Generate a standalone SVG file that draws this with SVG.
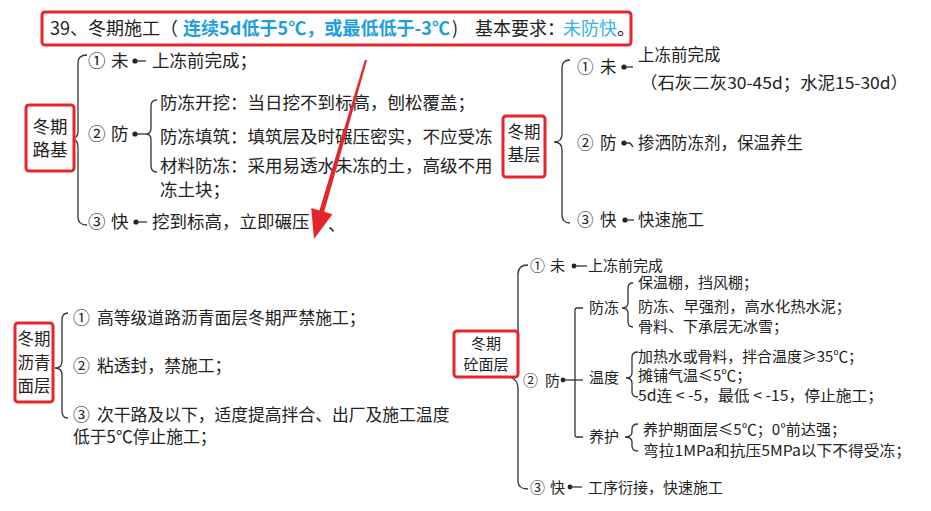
<svg xmlns="http://www.w3.org/2000/svg" width="931" height="511" viewBox="0 0 931 511">
<style>
text{font-family:"Noto Sans CJK SC","Noto Sans",sans-serif;fill:#222;}
.t17{font-size:17.5px;}
.t16{font-size:16.5px;}
.t168{font-size:16.8px;}
.t15{font-size:15px;}
.tt{font-size:18px;}
.c{text-anchor:middle;}
.box{fill:#fff;stroke:#e4262a;stroke-width:3;}
.br{fill:none;stroke:#333;stroke-width:1.3;}
.dot{fill:#222;}
.hb{fill:#1e9fdc;font-weight:bold;}
.hl{fill:#3ab2ea;}
</style>
<rect width="931" height="511" fill="#fff"/>

<g id="title">
<rect class="box" x="42" y="12" width="589" height="33" rx="3"/>
<text class="tt" x="50" y="35">39、冬期施工（</text>
<text class="tt hb" x="183" y="35" textLength="267" lengthAdjust="spacingAndGlyphs">连续5d低于5℃，或最低低于-3℃</text>
<text class="tt" x="452" y="35">)</text>
<text class="tt" x="475" y="35">基本要求：</text>
<text class="tt hl" x="563" y="35">未防快</text>
<text class="tt" x="617" y="35">。</text>
</g>

<g id="connectors">
<!-- 冬期路基 -->
<path class="br" d="M87,55 Q78,55 78,63 L78,131 Q78,139 71,139 Q78,139 78,147 L78,217 Q78,225 87,225"/>
<path class="br" d="M157,100 Q151,100 151,106 L151,128 Q151,134 146,134 Q151,134 151,140 L151,166 Q151,172 157,172"/>
<circle class="dot" cx="135" cy="61" r="2.6"/><line class="br" x1="135" y1="61" x2="146" y2="61"/>
<circle class="dot" cx="135" cy="134" r="2.6"/><line class="br" x1="135" y1="134" x2="146" y2="134"/>
<circle class="dot" cx="136" cy="222" r="2.6"/><line class="br" x1="136" y1="222" x2="147" y2="222"/>
<!-- 冬期基层 -->
<path class="br" d="M570,60 Q562,60 562,68 L562,134 Q562,142 554,142 Q562,142 562,150 L562,215 Q562,223 570,223"/>
<circle class="dot" cx="624" cy="67" r="2.6"/><line class="br" x1="624" y1="67" x2="633" y2="67"/>
<circle class="dot" cx="624" cy="143" r="2.6"/><path class="br" d="M624,143 L630,143 L633,147"/>
<circle class="dot" cx="625" cy="220" r="2.6"/><line class="br" x1="625" y1="220" x2="634" y2="220"/>
<!-- 冬期沥青面层 -->
<path class="br" d="M68,313 Q62,313 62,320 L62,361 Q62,368 55,368 Q62,368 62,375 L62,411 Q62,418 68,418"/>
<!-- 冬期砼面层 -->
<path class="br" d="M528,265 Q518,265 518,274 L518,372 Q518,380 510,377 Q518,380 518,388 L518,481 Q518,489 528,489"/>
<circle class="dot" cx="574" cy="266" r="2.4"/><line class="br" x1="574" y1="266" x2="587" y2="266"/>
<circle class="dot" cx="563" cy="380" r="2.4"/><line class="br" x1="563" y1="380" x2="583" y2="380"/>
<path class="br" d="M583,308 L577,308 Q575,308 575,310 L575,435 Q575,437 577,437 L583,437"/>
<path class="br" d="M633,283 Q628,283 628,288 L628,303 Q628,308 622,308 Q628,308 628,313 L628,322 Q628,327 633,327"/>
<path class="br" d="M638,352 Q632,352 632,357 L632,373 Q632,378 626,378 Q632,378 632,383 L632,392 Q632,397 638,397"/>
<path class="br" d="M638,424 Q632,424 632,429 L632,432 Q632,437 625,437 Q632,437 632,442 L632,446 Q632,451 638,451"/>
<circle class="dot" cx="570" cy="487" r="2.4"/><line class="br" x1="570" y1="487" x2="582" y2="487"/>
</g>

<g id="node-luji">
<rect class="box" x="26" y="105" width="48" height="66" rx="3"/>
<text class="t17 c" x="50" y="133">冬期</text>
<text class="t17 c" x="50" y="156">路基</text>
<text class="t17" x="88" y="67">①</text><text class="t17" x="111" y="67">未</text>
<text class="t17" x="152" y="67">上冻前完成；</text>
<text class="t17" x="88" y="140">②</text><text class="t17" x="111" y="140">防</text>
<text class="t17" x="160" y="109">防冻开挖：当日挖不到标高，刨松覆盖；</text>
<text class="t17" x="160" y="143">防冻填筑：填筑层及时碾压密实，不应受冻</text>
<text class="t17" x="160" y="172">材料防冻：采用易透水未冻的土，高级不用</text>
<text class="t17" x="160" y="196">冻土块；</text>
<text class="t17" x="88" y="228">③</text><text class="t17" x="111" y="228">快</text>
<text class="t17" x="152" y="228">挖到标高，立即碾压</text>
<text class="t17" x="328" y="231">、</text>
</g>

<g id="node-jiceng">
<rect class="box" x="503" y="116" width="42" height="61" rx="3"/>
<text class="t16 c" x="524" y="138">冬期</text>
<text class="t16 c" x="524" y="161">基层</text>
<text class="t16" x="577" y="73">①</text><text class="t16" x="600" y="73">未</text>
<text class="t16" x="638" y="61">上冻前完成</text>
<text class="t16" x="640" y="89" textLength="268" lengthAdjust="spacingAndGlyphs">（石灰二灰30-45d；水泥15-30d）</text>
<text class="t16" x="577" y="149">②</text><text class="t16" x="600" y="149">防</text>
<text class="t16" x="638" y="149">掺洒防冻剂，保温养生</text>
<text class="t16" x="577" y="226">③</text><text class="t16" x="600" y="226">快</text>
<text class="t16" x="638" y="226">快速施工</text>
</g>

<g id="node-liqing">
<rect class="box" x="15" y="323" width="38" height="79" rx="3"/>
<text class="t16 c" x="34" y="345">冬期</text>
<text class="t16 c" x="34" y="369">沥青</text>
<text class="t16 c" x="34" y="392">面层</text>
<text class="t168" x="73" y="324">①</text><text class="t168" x="97" y="324">高等级道路沥青面层冬期严禁施工；</text>
<text class="t168" x="73" y="372">②</text><text class="t168" x="97" y="372">粘透封，禁施工；</text>
<text class="t168" x="73" y="421">③</text><text class="t168" x="97" y="421">次干路及以下，适度提高拌合、出厂及施工温度</text>
<text class="t168" x="73" y="443">低于5℃停止施工；</text>
</g>

<g id="node-tong">
<rect class="box" x="454" y="331" width="64" height="46" rx="3"/>
<text class="t15 c" x="486" y="349">冬期</text>
<text class="t15 c" x="486" y="370">砼面层</text>
<text class="t15" x="530" y="271">①</text><text class="t15" x="550" y="271">未</text>
<text class="t15" x="588" y="271">上冻前完成</text>
<text class="t15" x="523" y="386">②</text><text class="t15" x="545" y="386">防</text>
<text class="t15" x="589" y="313">防冻</text>
<text class="t15" x="638" y="288">保温棚，挡风棚；</text>
<text class="t15" x="638" y="312" textLength="213" lengthAdjust="spacingAndGlyphs">防冻、早强剂，高水化热水泥；</text>
<text class="t15" x="638" y="332">骨料、下承层无冰雪；</text>
<text class="t15" x="589" y="383">温度</text>
<text class="t15" x="638" y="362" textLength="225" lengthAdjust="spacingAndGlyphs">加热水或骨料，拌合温度≥35℃；</text>
<text class="t15" x="638" y="381">摊铺气温≤5℃；</text>
<text class="t15" x="638" y="401" textLength="245" lengthAdjust="spacingAndGlyphs">5d连 &lt; -5，最低 &lt; -15，停止施工；</text>
<text class="t15" x="589" y="442">养护</text>
<text class="t15" x="643" y="435" textLength="203" lengthAdjust="spacingAndGlyphs">养护期面层≤5℃；0°前达强；</text>
<text class="t15" x="643" y="456" textLength="268" lengthAdjust="spacingAndGlyphs">弯拉1MPa和抗压5MPa以下不得受冻；</text>
<text class="t15" x="530" y="493">③</text><text class="t15" x="550" y="493">快</text>
<text class="t15" x="588" y="493">工序衍接，快速施工</text>
</g>

<g id="arrow">
<polygon fill="#e4262a" points="367,60.3 365,59.7 319.4,210.4 311.2,208 314,239 332.4,214.2 324.2,211.8"/>
</g>
</svg>
